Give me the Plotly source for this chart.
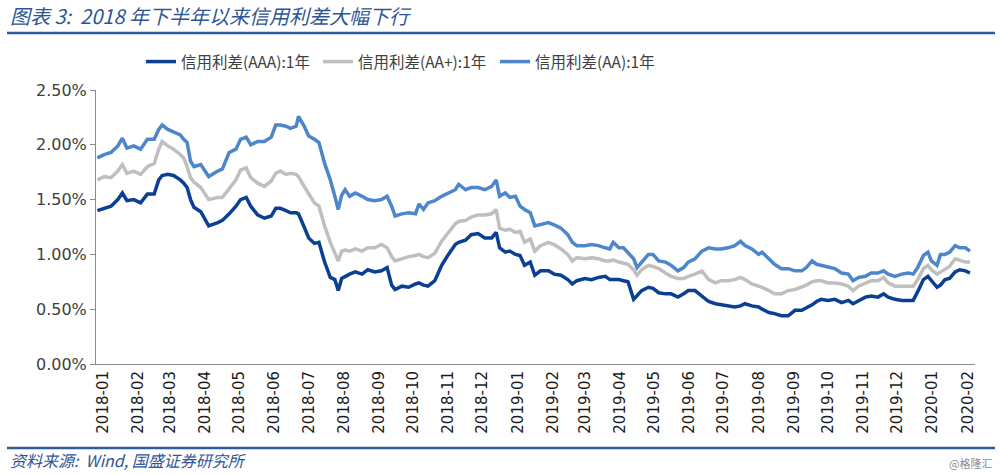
import plotly.graph_objects as go

dates = [
    "2017-12-27", "2018-01-02", "2018-01-08", "2018-01-14", "2018-01-18", "2018-01-22", "2018-01-28",
    "2018-02-03", "2018-02-09", "2018-02-15", "2018-02-19", "2018-02-22", "2018-02-27",
    "2018-03-04", "2018-03-10", "2018-03-13", "2018-03-16", "2018-03-19", "2018-03-22", "2018-03-28",
    "2018-04-04", "2018-04-12", "2018-04-16", "2018-04-22", "2018-04-28",
    "2018-05-02", "2018-05-07", "2018-05-11", "2018-05-17", "2018-05-23", "2018-05-29",
    "2018-06-02", "2018-06-06", "2018-06-11", "2018-06-15", "2018-06-20", "2018-06-22", "2018-06-27",
    "2018-07-01", "2018-07-06", "2018-07-10", "2018-07-15", "2018-07-20", "2018-07-24", "2018-07-27", "2018-07-30",
    "2018-08-02", "2018-08-06", "2018-08-11", "2018-08-17", "2018-08-22", "2018-08-28",
    "2018-09-03", "2018-09-08", "2018-09-12", "2018-09-15", "2018-09-21", "2018-09-27",
    "2018-10-03", "2018-10-06", "2018-10-10", "2018-10-14", "2018-10-20", "2018-10-26",
    "2018-11-01", "2018-11-07", "2018-11-10", "2018-11-16", "2018-11-21", "2018-11-27",
    "2018-12-03", "2018-12-09", "2018-12-13", "2018-12-16", "2018-12-21", "2018-12-25", "2018-12-30",
    "2019-01-03", "2019-01-07", "2019-01-12", "2019-01-16", "2019-01-21", "2019-01-28",
    "2019-02-02", "2019-02-08", "2019-02-14", "2019-02-18", "2019-02-22",
    "2019-03-01", "2019-03-07", "2019-03-13", "2019-03-19", "2019-03-23", "2019-03-26", "2019-03-31",
    "2019-04-04", "2019-04-08", "2019-04-13", "2019-04-16", "2019-04-20", "2019-04-26", "2019-04-30",
    "2019-05-05", "2019-05-11", "2019-05-16", "2019-05-22", "2019-05-27", "2019-05-31",
    "2019-06-06", "2019-06-12", "2019-06-18", "2019-06-24", "2019-06-29",
    "2019-07-05", "2019-07-11", "2019-07-16", "2019-07-20", "2019-07-26",
    "2019-08-01", "2019-08-04", "2019-08-10", "2019-08-15", "2019-08-21", "2019-08-27",
    "2019-09-02", "2019-09-08", "2019-09-12", "2019-09-17", "2019-09-21", "2019-09-25",
    "2019-10-01", "2019-10-07", "2019-10-13", "2019-10-19", "2019-10-23", "2019-10-28",
    "2019-11-03", "2019-11-08", "2019-11-14", "2019-11-19", "2019-11-23", "2019-11-29",
    "2019-12-05", "2019-12-11", "2019-12-15", "2019-12-19", "2019-12-24", "2019-12-28", "2019-12-31",
    "2020-01-05", "2020-01-08", "2020-01-12", "2020-01-16", "2020-01-21", "2020-01-25", "2020-01-30",
    "2020-02-03",
]

spread_aaa = [
    1.40, 1.42, 1.44, 1.50, 1.56, 1.49, 1.50,
    1.47, 1.55, 1.55, 1.68, 1.72, 1.73,
    1.72, 1.68, 1.65, 1.61, 1.50, 1.43, 1.39,
    1.26, 1.29, 1.31, 1.37, 1.44,
    1.50, 1.52, 1.44, 1.36, 1.33, 1.35,
    1.42, 1.42, 1.40, 1.38, 1.38, 1.37, 1.25,
    1.15, 1.10, 1.11, 0.93, 0.79, 0.77, 0.67, 0.78,
    0.80, 0.82, 0.84, 0.82, 0.86, 0.84,
    0.85, 0.88, 0.72, 0.68, 0.71, 0.70,
    0.73, 0.74, 0.72, 0.71, 0.76, 0.90,
    1.00, 1.09, 1.11, 1.13, 1.18, 1.19,
    1.15, 1.15, 1.20, 1.06, 1.02, 1.03, 1.00,
    0.99, 0.90, 0.93, 0.81, 0.85, 0.85,
    0.82, 0.81, 0.77, 0.73, 0.76,
    0.78, 0.77, 0.79, 0.80, 0.77, 0.77, 0.77,
    0.76, 0.75, 0.59, 0.62, 0.67, 0.70, 0.69,
    0.65, 0.64, 0.64, 0.61, 0.64, 0.67,
    0.67, 0.62, 0.57, 0.55, 0.54,
    0.53, 0.52, 0.53, 0.55, 0.53,
    0.52, 0.50, 0.47, 0.46, 0.44, 0.44,
    0.49, 0.49, 0.51, 0.54, 0.57, 0.59,
    0.58, 0.59, 0.56, 0.58, 0.55, 0.58,
    0.61, 0.62, 0.61, 0.64, 0.61, 0.59,
    0.58, 0.58, 0.58, 0.66, 0.77, 0.80, 0.76,
    0.70, 0.72, 0.77, 0.78, 0.84, 0.86, 0.85,
    0.83,
]

spread_aa_plus = [
    1.68, 1.71, 1.70, 1.76, 1.82, 1.74, 1.76,
    1.73, 1.80, 1.83, 1.96, 2.03, 1.99,
    1.96, 1.91, 1.88, 1.80, 1.70, 1.66, 1.61,
    1.50, 1.52, 1.52, 1.60, 1.68,
    1.77, 1.79, 1.70, 1.65, 1.62, 1.67,
    1.74, 1.76, 1.73, 1.74, 1.73, 1.71, 1.62,
    1.55, 1.47, 1.44, 1.26, 1.11, 1.02, 0.94, 1.03,
    1.04, 1.03, 1.05, 1.03, 1.06, 1.06,
    1.09, 1.06, 0.98, 0.94, 0.96, 0.98,
    0.99, 1.00, 0.98, 0.97, 1.01, 1.12,
    1.20, 1.28, 1.30, 1.31, 1.34, 1.36,
    1.36, 1.37, 1.41, 1.24, 1.22, 1.23, 1.20,
    1.21, 1.11, 1.14, 1.03, 1.08, 1.11,
    1.09, 1.05, 1.00, 0.94, 0.97,
    0.96, 0.97, 0.96, 0.94, 0.94, 0.95, 0.93,
    0.92, 0.91, 0.86, 0.81, 0.86, 0.90, 0.89,
    0.87, 0.83, 0.80, 0.78, 0.78, 0.80,
    0.82, 0.85, 0.77, 0.74, 0.76,
    0.76, 0.77, 0.79, 0.77, 0.73,
    0.71, 0.70, 0.67, 0.64, 0.64, 0.67,
    0.68, 0.70, 0.72, 0.75, 0.76, 0.76,
    0.74, 0.74, 0.73, 0.71, 0.67, 0.71,
    0.74, 0.76, 0.76, 0.79, 0.74, 0.71,
    0.71, 0.71, 0.71, 0.77, 0.87, 0.90, 0.86,
    0.82, 0.84, 0.87, 0.89, 0.96, 0.95, 0.93,
    0.93,
]

spread_aa = [
    1.88, 1.91, 1.93, 1.99, 2.06, 1.97, 1.99,
    1.96, 2.05, 2.05, 2.14, 2.18, 2.14,
    2.12, 2.09, 2.05, 2.02, 1.85, 1.80, 1.82,
    1.71, 1.76, 1.78, 1.93, 1.96,
    2.05, 2.07, 2.00, 2.03, 2.03, 2.07,
    2.18, 2.18, 2.17, 2.15, 2.17, 2.26, 2.17,
    2.08, 2.05, 2.02, 1.83, 1.68, 1.53, 1.41, 1.54,
    1.59, 1.53, 1.56, 1.53, 1.50, 1.49,
    1.50, 1.53, 1.44, 1.35, 1.37, 1.38,
    1.37, 1.46, 1.41, 1.47, 1.49, 1.53,
    1.56, 1.59, 1.64, 1.59, 1.61, 1.61,
    1.59, 1.62, 1.68, 1.53, 1.56, 1.52, 1.53,
    1.44, 1.41, 1.38, 1.26, 1.27, 1.29,
    1.27, 1.24, 1.18, 1.11, 1.08,
    1.08, 1.09, 1.08, 1.06, 1.05, 1.11, 1.06,
    1.06, 1.02, 0.96, 0.88, 0.93, 1.00, 1.00,
    0.94, 0.93, 0.90, 0.85, 0.88, 0.93,
    0.96, 1.03, 1.06, 1.05, 1.05,
    1.06, 1.08, 1.12, 1.08, 1.05,
    1.00, 1.02, 0.96, 0.91, 0.87, 0.87,
    0.85, 0.85, 0.88, 0.94, 0.91, 0.90,
    0.88, 0.87, 0.83, 0.82, 0.76, 0.79,
    0.80, 0.83, 0.83, 0.85, 0.82, 0.80,
    0.82, 0.83, 0.82, 0.88, 0.99, 1.02, 0.94,
    0.90, 1.00, 1.00, 1.02, 1.08, 1.06, 1.06,
    1.03,
]

series_names = ["信用利差(AAA):1年", "信用利差(AA+):1年", "信用利差(AA):1年"]
series_colors = ["#0B3F94", "#BFBFBF", "#4E86CC"]

tick_dates = [f"{y}-{m:02d}-01" for y in (2018, 2019, 2020) for m in range(1, 13)][:26]
tick_labels = [d[:7] for d in tick_dates]
y_ticks = [0, 0.5, 1.0, 1.5, 2.0, 2.5]
y_tick_labels = ["0.00%", "0.50%", "1.00%", "1.50%", "2.00%", "2.50%"]

fig = go.Figure()
for name, vals, col in zip(series_names, [spread_aaa, spread_aa_plus, spread_aa], series_colors):
    fig.add_trace(go.Scatter(x=dates, y=vals, mode="lines", name=name,
                             line=dict(color=col, width=3.5)))

W, H = 1000, 475
L, R, T, B = 96, 25, 90, 111
pw, ph = W - L - R, H - T - B


def px(x):
    return (x - L) / pw


def py(y):
    return (H - B - y) / ph


fig.update_layout(
    width=W, height=H,
    margin=dict(l=L, r=R, t=T, b=B),
    paper_bgcolor="white", plot_bgcolor="white",
    font=dict(family="DejaVu Sans, Noto Sans CJK SC", color="#404040"),
    legend=dict(orientation="h", x=px(141), y=py(62), xanchor="left", yanchor="middle",
                font=dict(size=15.5, family="Noto Sans CJK SC", color="#404040"),
                entrywidth=132, entrywidthmode="pixels", bgcolor="rgba(0,0,0,0)"),
    xaxis=dict(type="date", range=["2017-12-25 19:00", "2020-02-07 10:00"],
               tickmode="array", tickvals=tick_dates, ticktext=tick_labels, tickangle=-90,
               tickfont=dict(size=15, color="#1A1A1A", family="DejaVu Sans"),
               showgrid=False, zeroline=False, showline=True, linecolor="#8C8C8C",
               linewidth=1, ticks="", fixedrange=True),
    yaxis=dict(range=[0, 2.5], tickmode="array", tickvals=y_ticks, ticktext=y_tick_labels,
               tickfont=dict(size=16, color="#404040", family="DejaVu Sans"),
               showgrid=False, zeroline=False, showline=True, linecolor="#8C8C8C",
               linewidth=1, ticks="outside", ticklen=5, tickcolor="#8C8C8C"),
    showlegend=True,
)

fig.add_annotation(text="图表 3:  2018 年下半年以来信用利差大幅下行", xref="paper", yref="paper",
                   x=px(8), y=py(15), xanchor="left", yanchor="middle", showarrow=False,
                   font=dict(size=20, color="#2F5597", family="Noto Sans CJK SC", style="italic"))
fig.add_annotation(text="资料来源:  Wind, 国盛证券研究所", xref="paper", yref="paper",
                   x=px(8), y=py(460), xanchor="left", yanchor="middle", showarrow=False,
                   font=dict(size=16, color="#2F5597", family="Noto Sans CJK SC", style="italic"))
fig.add_annotation(text="@格隆汇", xref="paper", yref="paper",
                   x=px(994), y=py(463), xanchor="right", yanchor="middle", showarrow=False,
                   font=dict(size=11, color="#8C8C8C", family="Noto Sans CJK SC"))

fig.add_shape(type="line", xref="paper", yref="paper", x0=px(7), x1=px(995), y0=py(33), y1=py(33),
              line=dict(color="#2F5A9E", width=2.5))
fig.add_shape(type="line", xref="paper", yref="paper", x0=px(7), x1=px(995), y0=py(448), y1=py(448),
              line=dict(color="#2F5A9E", width=2.5))

fig.write_html("out.html", config={"displayModeBar": False},
               post_script="document.body.style.margin='0';document.body.style.overflow='hidden';")
